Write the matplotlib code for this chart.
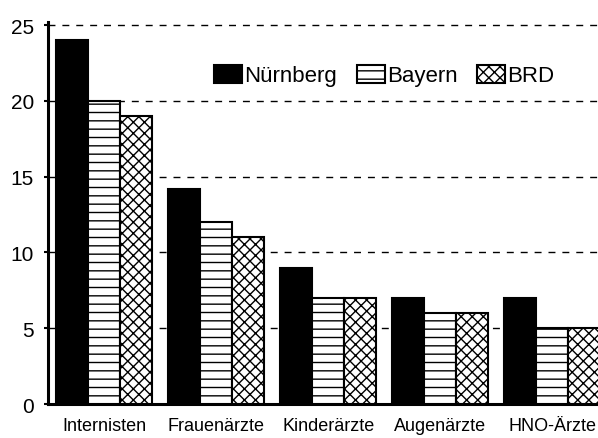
import matplotlib
matplotlib.use("Agg")
import matplotlib.pyplot as plt
import numpy as np

categories = ["Internisten", "Frauenärzte", "Kinderärzte", "Augenärzte", "HNO-Ärzte"]
nuernberg = [24, 14.2, 9, 7, 7]
bayern = [20, 12, 7, 6, 5]
brd = [19, 11, 7, 6, 5]
yticks = [0, 5, 10, 15, 20, 25]

plt.rcParams["font.family"] = ["Liberation Sans", "DejaVu Sans"]
plt.rcParams["hatch.linewidth"] = 1.0

fig = plt.figure(figsize=(5.98, 4.39), dpi=100)
ax = fig.add_axes([0.080, 0.0774, 0.920, 0.8702])

x = np.arange(len(categories))
w = 0.286
edge = dict(edgecolor="black", linewidth=1.5, zorder=3)
ax.bar(x - w, nuernberg, w, color="black", label="Nürnberg", **edge)
ax.bar(x, bayern, w, color="white", hatch="--", label="Bayern", **edge)
ax.bar(x + w, brd, w, color="white", hatch="xxx", label="BRD", **edge)

ax.set_xlim(-0.505, 4.41)
ax.set_ylim(0, 25.2)
ax.set_yticks(yticks)
ax.set_yticklabels([str(v) for v in yticks], fontsize=15)
ax.set_xticks(x)
ax.set_xticklabels(categories, fontsize=13)
ax.tick_params(axis="x", length=0, pad=9)
ax.tick_params(axis="y", length=3, width=1.5, pad=7)

# dashed reference lines behind the bars
for v in yticks[1:]:
    ax.axhline(v, color="black", lw=1, ls=(0, (5, 5)), zorder=1)

for s in ["top", "right"]:
    ax.spines[s].set_visible(False)
ax.spines["left"].set_linewidth(2.2)
ax.spines["bottom"].set_linewidth(2.2)

ax.legend(ncol=3, loc="center left", bbox_to_anchor=(0.286, 0.86),
          frameon=False, fontsize=16, handlelength=1.25, handleheight=0.9,
          handletextpad=0.1, columnspacing=0.9, borderaxespad=0)

fig.savefig("out.png", dpi=100)
